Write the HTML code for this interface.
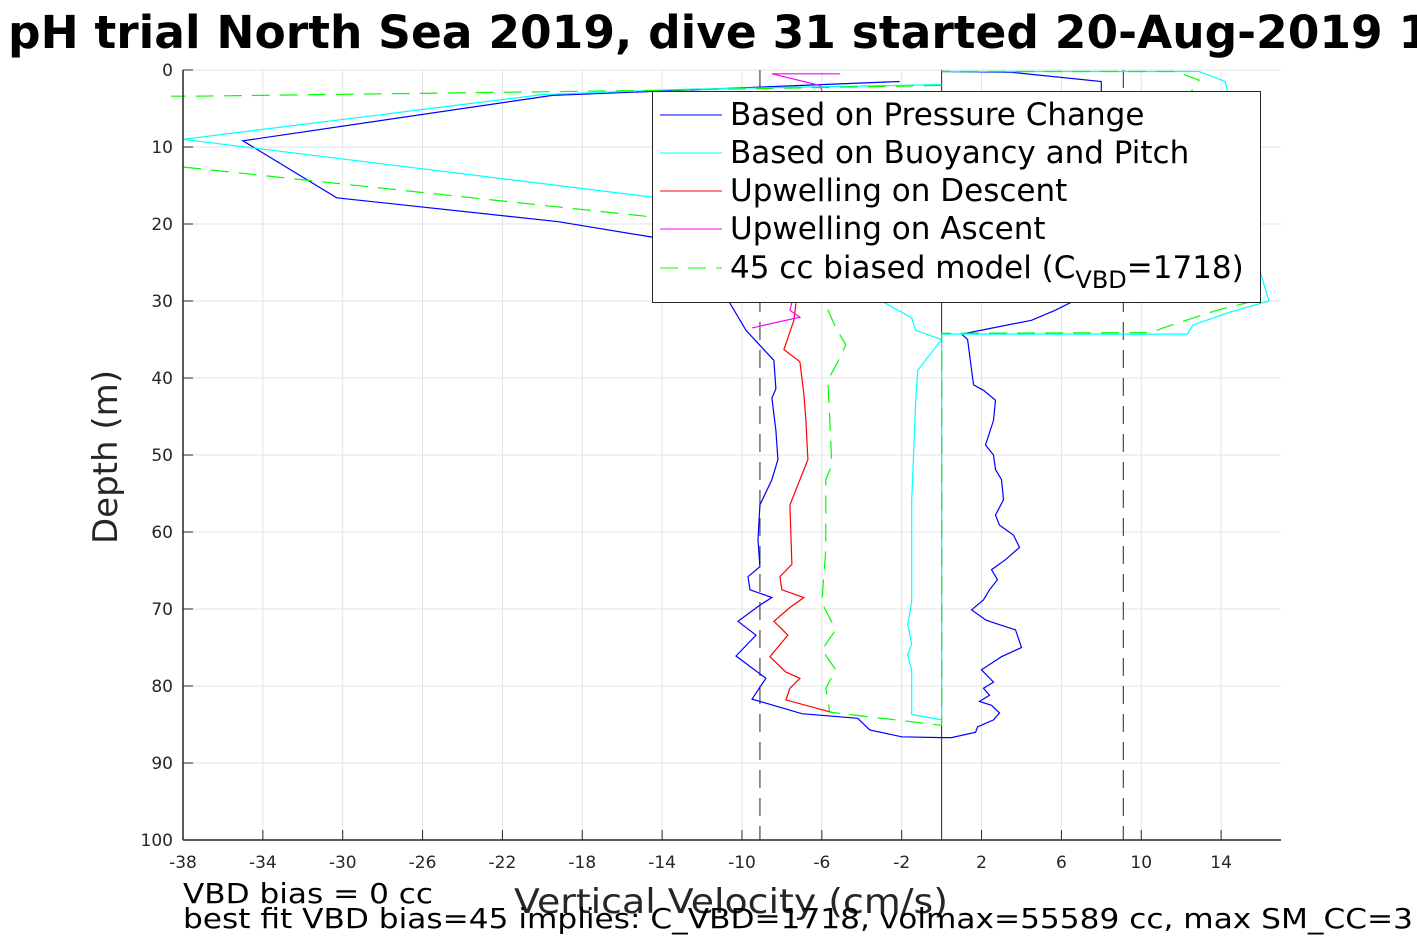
<!DOCTYPE html>
<html><head><meta charset="utf-8"><style>
html,body{margin:0;padding:0;background:#fff;overflow:hidden}
svg{display:block;font-family:"DejaVu Sans","Liberation Sans",sans-serif}
</style></head><body>
<svg id="chart" width="1417" height="945" viewBox="0 0 1417 945" xmlns="http://www.w3.org/2000/svg">
<text x="8" y="48" font-size="45.5" font-weight="bold" fill="#000">pH trial North Sea 2019, dive 31 started 20-Aug-2019 15:30</text>
<g id="grid"></g>
<g id="series"></g>
<g id="axes"></g>
<g>
<rect x="652.5" y="91.5" width="608" height="211" fill="#fff" stroke="#262626" stroke-width="1"/>
<line x1="660" y1="115" x2="722" y2="115" stroke="#0000ff"/>
<text x="730" y="125" font-size="31">Based on Pressure Change</text>
<line x1="660" y1="153" x2="722" y2="153" stroke="#00ffff"/>
<text x="730" y="163" font-size="31">Based on Buoyancy and Pitch</text>
<line x1="660" y1="191" x2="722" y2="191" stroke="#ff0000"/>
<text x="730" y="201" font-size="31">Upwelling on Descent</text>
<line x1="660" y1="229" x2="722" y2="229" stroke="#ff00ff"/>
<text x="730" y="239" font-size="31">Upwelling on Ascent</text>
<line x1="660" y1="268" x2="722" y2="268" stroke="#00ff00" stroke-dasharray="18,10"/>
<text x="730" y="278" font-size="31">45 cc biased model (C<tspan font-size="24" dy="10">VBD</tspan><tspan dy="-10">=1718)</tspan></text>
</g>
<text transform="translate(117,457) rotate(-90)" text-anchor="middle" font-size="34" fill="#262626">Depth (m)</text>
<text x="514" y="913" font-size="34" fill="#262626" textLength="434" lengthAdjust="spacingAndGlyphs">Vertical Velocity (cm/s)</text>
<text x="183" y="903" font-size="28" fill="#000" textLength="250" lengthAdjust="spacingAndGlyphs">VBD bias = 0 cc</text>
<text x="183" y="928" font-size="28" fill="#000" textLength="1230" lengthAdjust="spacingAndGlyphs">best fit VBD bias=45 implies: C_VBD=1718, volmax=55589 cc, max SM_CC=3</text>
</svg>
<script>
const xTicks=[-38,-34,-30,-26,-22,-18,-14,-10,-6,-2,2,6,10,14];
const yTicks=[0,10,20,30,40,50,60,70,80,90,100];
const xDomain=[-38,17];
const yDomain=[0,100];
const pressureV=[-2.1,-19.5,-35,-30.3,-19.2,-14.5,-12,-10.6,-9.8,-9.2,-8.4,-8.3,-8.5,-8.3,-8.2,-8.5,-9.1,-9.2,-9.1,-9.7,-9.6,-8.5,-9.1,-10.2,-9.3,-10.3,-8.8,-9.5,-7,-4.2,-3.6,-2,0,0.5,1.7,1.8,2.6,2.9,2.5,1.9,2.4,2.1,2.6,2,3,4,3.7,2.5,2.2,1.5,2.1,2.4,2.8,2.5,3.2,3.9,3.6,2.9,2.7,3.1,3,2.7,2.6,2.2,2.6,2.7,2.1,1.6,1.5,1.3,1,4.5,5.7,6.7,8,8,3.5,0];
const pressureD=[1.5,3.3,9.2,16.6,19.7,21.7,25,30.3,33.8,35.5,37.7,41.4,42.6,46.8,50.6,53.2,56.5,61,64.5,65.8,67.5,68.5,69.5,71.6,73.4,76.1,79,81.7,83.6,84.2,85.7,86.6,86.7,86.7,86,85.3,84.4,83.5,82.5,82,81.2,80.3,79.5,77.9,76.2,75,72.7,71.7,71.4,70.1,68.8,67.5,66.2,64.9,63.6,62,60.4,59.1,57.8,55.8,53.2,51.9,50,48.7,45.5,42.9,41.6,40.9,39,35,34.3,32.5,31.2,29.9,20,1.5,0.3,0.2];
const buoyV=[0,-13,-20,-38,-14.5,-6,-2.8,-1.5,-1.3,0,-1.2,-1.3,-1.5,-1.5,-1.7,-1.5,-1.7,-1.5,-1.5,0,0,0,12.3,12.6,14.5,16.4,16,15,14.2,12.9,0];
const buoyD=[1.9,2.5,3.2,9,16.5,25,30.3,32.2,33.8,35,39,43,56,69,72,74.5,76,78,83.7,84.4,34.3,34.3,34.3,33.1,31.4,30,26.6,10,1.5,0.2,0.2];
const descV=[-7.3,-7.4,-7.9,-7.1,-6.9,-6.8,-6.7,-7.6,-7.5,-8.1,-8,-6.9,-7.6,-8.4,-7.7,-8.6,-7.8,-7.1,-7.6,-7.8,-5.4];
const descD=[30.3,32.5,36.3,37.9,42.1,45.5,50.6,56.5,64.2,65.8,67.5,68.5,69.8,71.6,73.4,76.2,78.2,79,80.3,81.8,83.5];
const ascV=[-5.1,-8.5,-6.1,-5.8,-6.5,-7.6,-7.1,-9.5];
const ascD=[0.5,0.5,2,3.9,20,31.2,32.1,33.5];
const modelV=[0,-13,-37.4,-38.6,null,-38,-14.1,-6.2,-5.8,-5.3,-4.8,-5.2,-5.7,-5.6,-5.5,-5.8,-5.8,-5.8,-6,-5.3,-6,-5.3,-5.8,-5.6,0,0,0,10.5,11.1,13.8,15.8,14,12.5,12.9,11.7,0];
const modelD=[2,2.6,3.4,3.4,null,12.6,19.2,29.9,30.5,33.5,35.7,37.9,40.3,45.5,51.3,53.2,56.5,62.3,69.2,72.7,75.3,77.9,80.3,83.4,85.1,34.2,34.2,34.1,33.5,31.2,29.9,15,2.8,1.3,0.2,0.2];
const vbdLimits=[-9.1,9.1];

const L=183,R=1281,T=70,B=840;
const sx=v=>L+(v-xDomain[0])/(xDomain[1]-xDomain[0])*(R-L);
const sy=d=>T+(d-yDomain[0])/(yDomain[1]-yDomain[0])*(B-T);
const NS="http://www.w3.org/2000/svg";
function mk(tag,parent,attrs){const e=document.createElementNS(NS,tag);for(const k in attrs)e.setAttribute(k,attrs[k]);parent.appendChild(e);return e;}
const grid=document.getElementById('grid'),axes=document.getElementById('axes'),series=document.getElementById('series');
xTicks.forEach(t=>{const g=mk('line',grid,{x1:sx(t),x2:sx(t),y1:T,y2:B,stroke:'#e3e3e3'});


const tl=mk('text',axes,{x:sx(t),y:B+28,'text-anchor':'middle','font-size':17,fill:'#262626'});tl.textContent=t;


mk('line',axes,{x1:sx(t),x2:sx(t),y1:B,y2:B-10,stroke:'#262626'});});
yTicks.forEach(t=>{const g=mk('line',grid,{x1:L,x2:R,y1:sy(t),y2:sy(t),stroke:'#e3e3e3'});


const tl=mk('text',axes,{x:L-10,y:sy(t)+6,'text-anchor':'end','font-size':17,fill:'#262626'});tl.textContent=t;


mk('line',axes,{x1:L,x2:L+10,y1:sy(t),y2:sy(t),stroke:'#262626'});});
mk('line',axes,{x1:L,x2:L,y1:T,y2:B,stroke:'#262626','stroke-width':1.5});
mk('line',axes,{x1:L,x2:R,y1:B,y2:B,stroke:'#262626','stroke-width':1.5});
function path(vs,ds){let s='',pen=false;for(let i=0;i<vs.length;i++){if(vs[i]===null){pen=false;continue;}s+=(pen?'L':'M')+sx(vs[i]).toFixed(1)+','+sy(ds[i]).toFixed(1);pen=true;}return s;}
const z=mk('line',series,{x1:sx(0),x2:sx(0),y1:T,y2:B,stroke:'#262626'});


vbdLimits.forEach(v=>{const l=mk('line',series,{x1:sx(v),x2:sx(v),y1:T,y2:B,stroke:'#262626','stroke-dasharray':'18,10'});

});
const defs=[[pressureV,pressureD,'#0000ff',null,'pressure-change-line'],[buoyV,buoyD,'#00ffff',null,'buoyancy-pitch-line'],[descV,descD,'#ff0000',null,'upwelling-descent-line'],[ascV,ascD,'#ff00ff',null,'upwelling-ascent-line'],[modelV,modelD,'#00ff00','18,10','biased-model-line']];
defs.forEach(([v,d,c,da,n])=>{const a={d:path(v,d),fill:'none',stroke:c,'stroke-width':1.2};if(da)a['stroke-dasharray']=da;const p=mk('path',series,a);

});
</script>
</body></html>
